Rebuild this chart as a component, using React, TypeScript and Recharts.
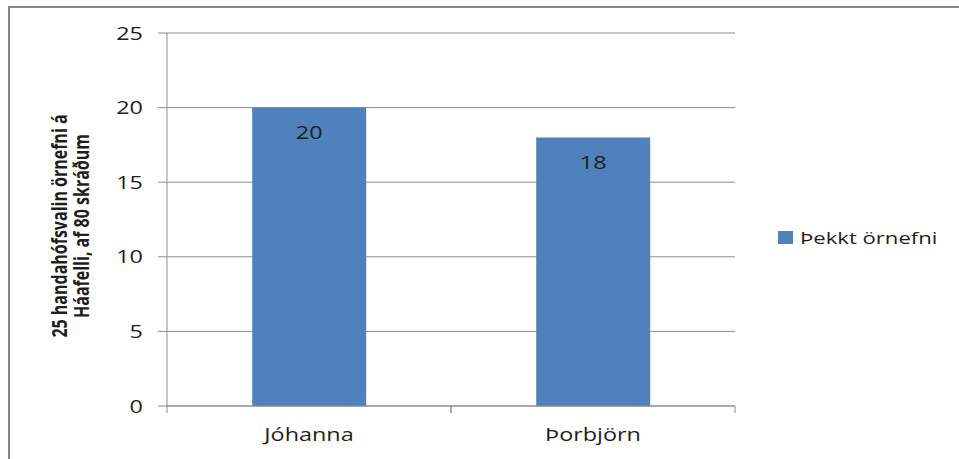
import React from 'react';
import { BarChart, Bar, XAxis, YAxis, CartesianGrid, LabelList } from 'recharts';

const categories = ['Jóhanna', 'Þorbjörn'];
const knownNames = [20, 18];
const yTicks = [0, 5, 10, 15, 20, 25];
const seriesName = 'Þekkt örnefni';
const yLabelLines = ['25 handahófsvalin örnefni á', 'Háafelli, af 80 skráðum'];

const W = 959;
const H = 459;
const PLOT_LEFT = 167;
const PLOT_RIGHT = 735;
const PLOT_TOP = 33;
const PLOT_BOTTOM = 406;
const X_AXIS_H = 30;
const BAND = (PLOT_RIGHT - PLOT_LEFT) / categories.length;
const STRETCH = 1.3;
const FONT = '"Open Sans", "DejaVu Sans", sans-serif';
const GRID = '#8c8c8c';
const BLUE = '#4F81BD';
const INK = '#1e1e1e';

const data = categories.map((name, i) => ({ name, value: knownNames[i] }));

// text drawn wider than the font, like the stretched original
function StretchText({ x, y, anchor = 'middle', size = 18, weight = 400, rotate = 0, children }: any) {
    return (
        <text
            transform={`translate(${x},${y}) scale(${STRETCH},1)${rotate ? ` rotate(${rotate})` : ''}`}
            textAnchor={anchor}
            fontFamily={FONT}
            fontSize={size}
            fontWeight={weight}
            fill={INK}
        >
            {children}
        </text>
    );
}

const YTick = ({ y, payload }: any) => (
    <StretchText x={PLOT_LEFT - 24} y={y + 6.5} anchor="end">
        {payload.value}
    </StretchText>
);

const XTick = ({ x, payload }: any) => (
    <g>
        <line x1={x - BAND / 2} x2={x - BAND / 2} y1={PLOT_BOTTOM} y2={PLOT_BOTTOM + 7} stroke={GRID} />
        <line x1={x + BAND / 2} x2={x + BAND / 2} y1={PLOT_BOTTOM} y2={PLOT_BOTTOM + 7} stroke={GRID} />
        <StretchText x={x} y={PLOT_BOTTOM + 35}>
            {payload.value}
        </StretchText>
    </g>
);

const YLabel = () => (
    <g>
        <StretchText x={67} y={226} size={16} weight={700} rotate={-90}>
            {yLabelLines[0]}
        </StretchText>
        <StretchText x={89} y={226} size={16} weight={700} rotate={-90}>
            {yLabelLines[1]}
        </StretchText>
    </g>
);

const BarValue = (p: any) => (
    <StretchText x={p.x + p.width / 2} y={p.y + 31.5}>
        {p.value}
    </StretchText>
);

export default function App() {
    return (
        <div style={{ position: 'absolute', left: 0, top: 0, width: W, height: H, background: '#fff', overflow: 'hidden' }}>
            <div
                style={{
                    position: 'absolute',
                    left: 8,
                    top: 6,
                    width: W,
                    height: H,
                    borderTop: '2px solid #878787',
                    borderLeft: '2px solid #878787'
                }}
            />
            <BarChart
                width={W}
                height={H}
                data={data}
                margin={{ top: PLOT_TOP, right: W - PLOT_RIGHT, bottom: H - PLOT_BOTTOM - X_AXIS_H, left: PLOT_LEFT - 60 }}
                barCategoryGap="30%"
                style={{ position: 'absolute', left: 0, top: 0 }}
            >
                <CartesianGrid vertical={false} stroke={GRID} />
                <XAxis
                    dataKey="name"
                    height={X_AXIS_H}
                    axisLine={{ stroke: GRID }}
                    tickLine={false}
                    tick={<XTick />}
                    interval={0}
                />
                <YAxis
                    width={60}
                    domain={[0, 25]}
                    ticks={yTicks}
                    axisLine={{ stroke: GRID }}
                    tickLine={{ stroke: GRID }}
                    tickSize={9}
                    tick={<YTick />}
                    label={{ content: <YLabel /> }}
                />
                <Bar dataKey="value" name={seriesName} fill={BLUE} isAnimationActive={false}>
                    <LabelList dataKey="value" content={<BarValue />} />
                </Bar>
            </BarChart>
            <div
                style={{
                    position: 'absolute',
                    left: 778,
                    top: 226,
                    display: 'flex',
                    alignItems: 'center',
                    fontFamily: FONT,
                    fontSize: 17,
                    color: INK,
                    whiteSpace: 'nowrap'
                }}
            >
                <span style={{ display: 'inline-block', width: 15, height: 13, background: BLUE, marginRight: 7 }} />
                <span style={{ display: 'inline-block', transform: `scaleX(${STRETCH})`, transformOrigin: 'left center' }}>
                    {seriesName}
                </span>
            </div>
        </div>
    );
}
